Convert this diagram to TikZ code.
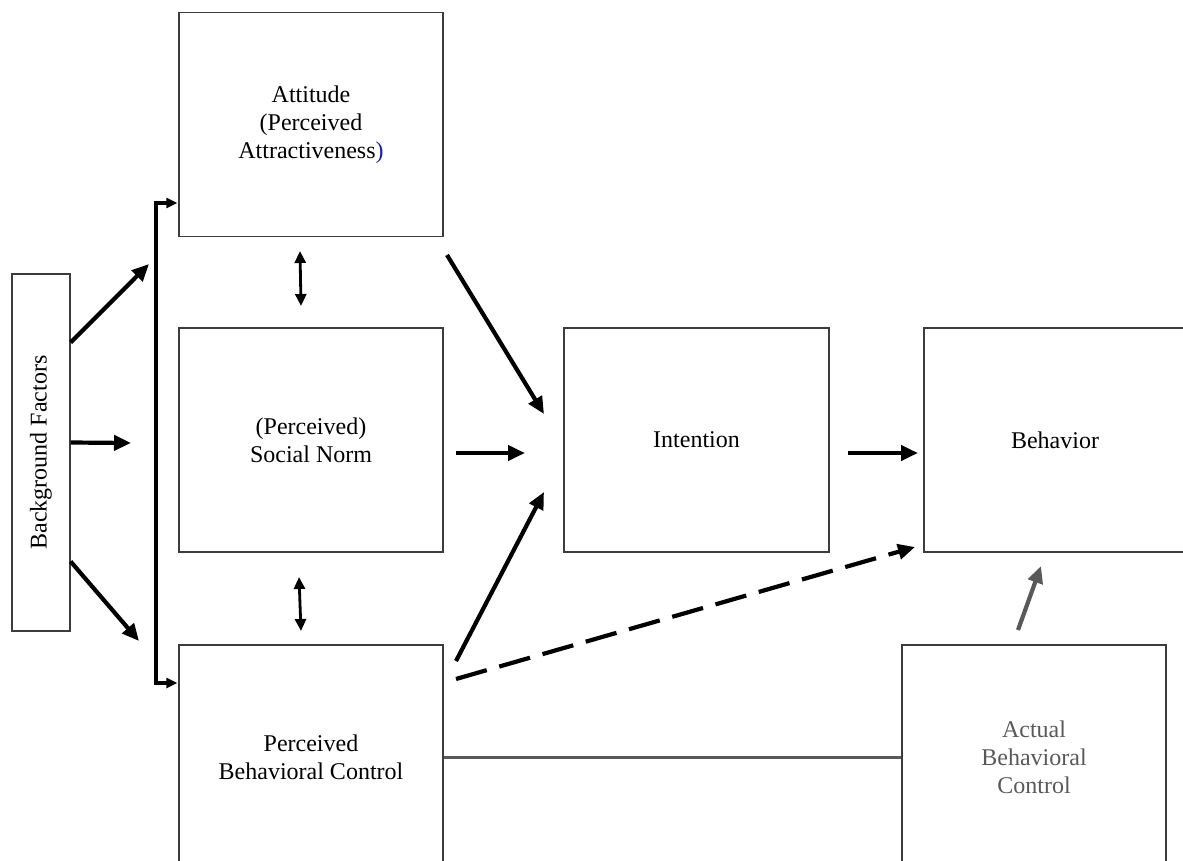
\documentclass[tikz,border=0pt]{standalone}
\usepackage{fontspec}
\setmainfont{Liberation Serif}
\usetikzlibrary{arrows.meta,positioning}
\definecolor{boxgray}{HTML}{3C3C3C}
\definecolor{ctrlgray}{HTML}{595959}
\definecolor{parblue}{HTML}{2020A0}

\tikzset{
  box/.style={draw=boxgray, line width=1.3pt, align=center, inner sep=0pt,
    minimum width=264pt, minimum height=224pt,
    font=\fontsize{24}{28}\selectfont},
  flow/.style={line width=4.2pt, -{Triangle[length=17pt, width=15pt]}},
  brace/.style={line width=3.2pt},
  brarrow/.style={line width=3.2pt, -{Triangle[length=11pt, width=10pt]}},
  link/.style={line width=2.8pt, {Triangle[length=12pt, width=11pt]}-{Triangle[length=12pt, width=11pt]}},
  ctrl/.style={draw=ctrlgray, line width=3pt}
}

\begin{document}
\begin{tikzpicture}[x=1pt, y=-1pt]
    \useasboundingbox (0,0) rectangle (1183,861);
    \clip (0,0) rectangle (1183,861);
    % Boxes
    \node[box, minimum width=58pt, minimum height=357pt] (bf) at (41,452.5)
         {\rotatebox{90}{Background Factors}};
    \node[box] (att) at (311,124.5)
         {Attitude\\(Perceived\\Attractiveness{\color{parblue})}};
    \node[box] (sn) at (311,440) {(Perceived)\\Social Norm};
    \node[box] (pbc) at (311,757) {Perceived\\Behavioral Control};
    \node[box, minimum width=265pt] (int) at (696.5,440) {Intention};
    \node[box, minimum width=272pt] (beh) at (1060,440) {\hspace*{-10pt}Behavior};
    \node[box, draw=boxgray, text=ctrlgray] (abc) at (1034,757)
         {Actual\\Behavioral\\Control};
    % Free arrow ends
    \coordinate (bfUp) at (149,264);
    \coordinate (bfMid) at (131,443);
    \coordinate (bfLow) at (139,641);
    \coordinate (brTop) at (156,203);
    \coordinate (brBot) at (156,683);
    % Background factors fan out
    \draw[flow] ([yshift=110pt]bf.east) -- (bfUp);
    \draw[flow] ([yshift=10pt]bf.east) -- (bfMid);
    \draw[flow] ([yshift=-109pt]bf.east) -- (bfLow);
    \draw[brace] (brTop) -- (brBot);
    \draw[brarrow, shorten >=1pt] ([xshift=-1.6pt]brTop) -- (att.west |- brTop);
    \draw[brarrow, shorten >=1pt] ([xshift=-1.6pt]brBot) -- (pbc.west |- brBot);
    % Links between the three beliefs
    \coordinate (lkA) at (300,251);
    \coordinate (lkB) at (301,306);
    \coordinate (lkC) at (299,577);
    \coordinate (lkD) at (301,631);
    \draw[link] (lkA) -- (lkB);
    \draw[link] (lkC) -- (lkD);
    % Into intention and behavior
    \coordinate (attOut) at (447,255);
    \coordinate (intTop) at (544,414);
    \coordinate (snOut) at (456,453);
    \coordinate (intMid) at (525,453);
    \coordinate (pbcOut) at (456,661);
    \coordinate (intLow) at (544,492);
    \coordinate (intOut) at (848,453);
    \coordinate (behIn) at (918,453);
    \coordinate (pbcDash) at (456,679);
    \coordinate (behDash) at (915,547);
    \coordinate (abcOut) at (1018,630);
    \coordinate (behUp) at (1041,566);
    \draw[flow] (attOut) -- (intTop);
    \draw[flow] (snOut) -- (intMid);
    \draw[flow] (pbcOut) -- (intLow);
    \draw[flow] (intOut) -- (behIn);
    \draw[flow, dash pattern=on 32pt off 13pt] (pbcDash) -- (behDash);
    \draw[flow, ctrlgray] (abcOut) -- (behUp);
    \draw[ctrl] (pbc.east) -- (abc.west);
\end{tikzpicture}
\end{document}
